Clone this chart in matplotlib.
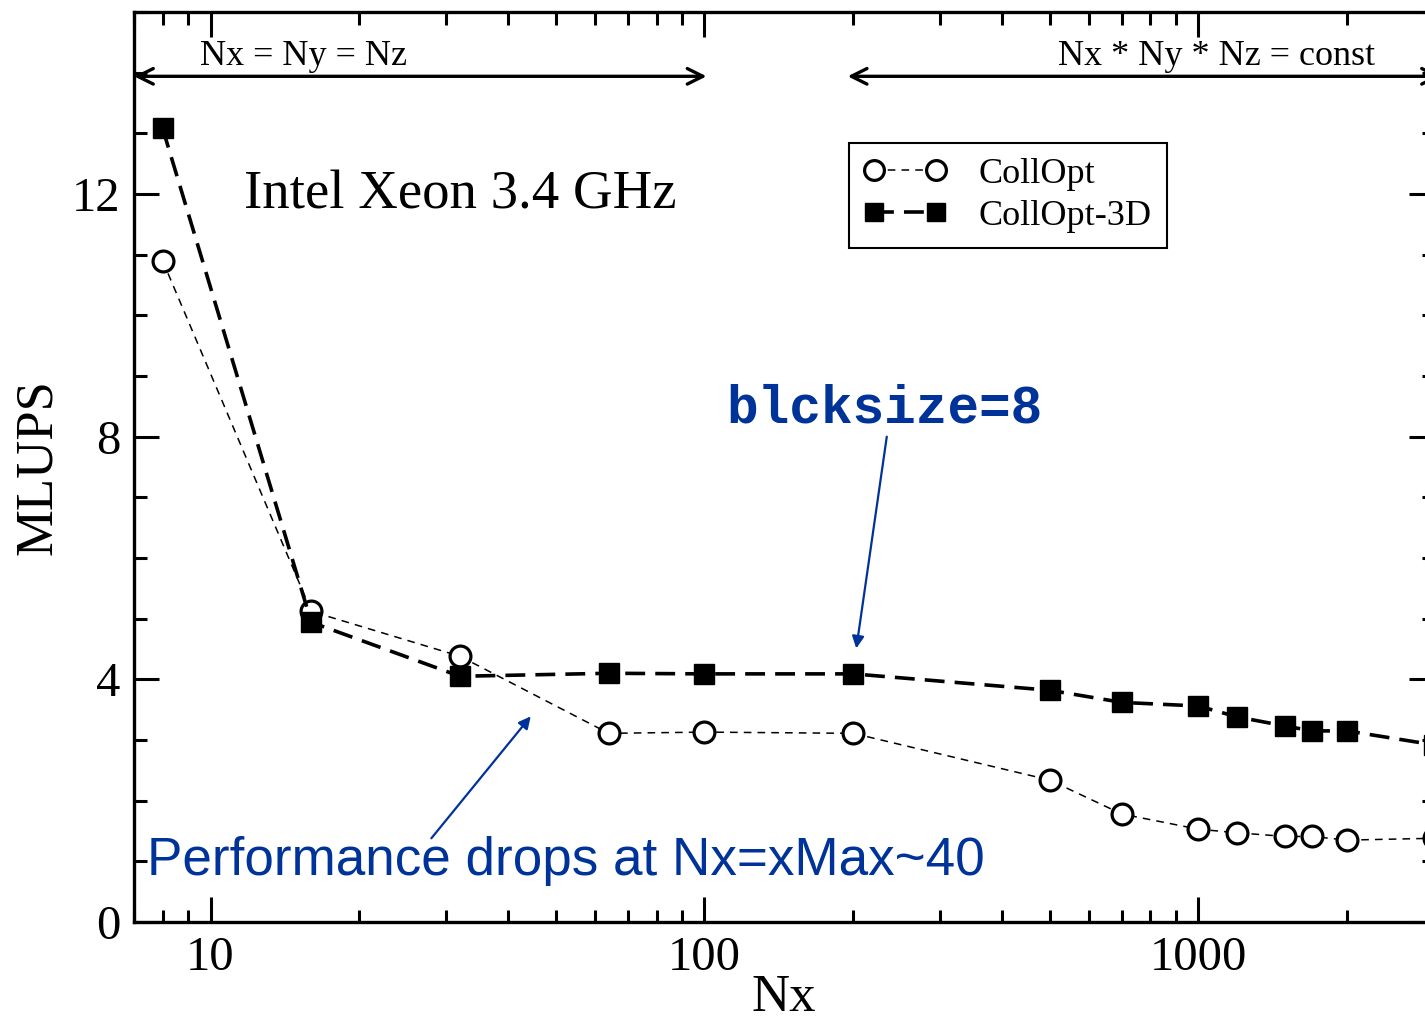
import numpy as np
import matplotlib
matplotlib.use("Agg")
from matplotlib import pyplot as plt
from matplotlib.ticker import LogLocator, MultipleLocator, FixedLocator, NullFormatter

# data
nx = [8, 16, 32, 64, 100, 200, 500, 700, 1000, 1200, 1500, 1700, 2000, 3000]
collopt = [10.9, 5.12, 4.38, 3.11, 3.13, 3.11, 2.34, 1.78, 1.53, 1.47, 1.41, 1.41, 1.35, 1.38]
collopt_3d = [13.08, 4.94, 4.05, 4.10, 4.09, 4.09, 3.82, 3.62, 3.56, 3.38, 3.23, 3.15, 3.15, 2.92]

x_ticks = [10, 100, 1000]
x_ticklabels = ["10", "100", "1000"]
y_ticks = [0, 4, 8, 12]

serif = "Liberation Serif"
blue = "#003399"

fig = plt.figure(figsize=(14.25, 10.25), dpi=100)
ax = fig.add_axes([134 / 1425, 103 / 1025, 1300 / 1425, 910 / 1025])

ax.plot(nx, collopt, color="black", lw=1.1, dashes=(5, 4),
        marker="o", ms=15, mfc="white", mec="black", mew=2.3, label="CollOpt", zorder=3)
ax.plot(nx, collopt_3d, color="black", lw=2.6, dashes=(5.5, 2.8),
        marker="s", ms=14, mfc="black", mec="black", mew=1, label="CollOpt-3D", zorder=4)

ax.set_xscale("log")
ax.set_xlim(7, 3000)
ax.set_ylim(0, 15)

ax.xaxis.set_major_locator(FixedLocator(x_ticks))
ax.set_xticklabels(x_ticklabels)
ax.xaxis.set_minor_locator(LogLocator(base=10, subs=np.arange(2, 10)))
ax.xaxis.set_minor_formatter(NullFormatter())
ax.yaxis.set_major_locator(FixedLocator(y_ticks))
ax.yaxis.set_minor_locator(MultipleLocator(1))

ax.tick_params(which="both", direction="in", top=True, right=True, width=2.2)
ax.tick_params(which="major", length=18, pad=10, labelsize=35)
ax.tick_params(which="minor", length=9)
for lab in ax.get_xticklabels() + ax.get_yticklabels():
    lab.set_family(serif)
for sp in ax.spines.values():
    sp.set_linewidth(2.4)

ax.set_xlabel("Nx", fontsize=38, family=serif, labelpad=-4)
ax.set_ylabel("MLUPS", fontsize=38, family=serif, labelpad=7)

# regime arrows on top
ax.annotate("", xy=(101, 13.94), xytext=(7, 13.94),
            arrowprops=dict(arrowstyle="<->", lw=2.4, color="black", mutation_scale=28,
                            shrinkA=0, shrinkB=0), annotation_clip=False)
ax.annotate("", xy=(3100, 13.94), xytext=(195, 13.94),
            arrowprops=dict(arrowstyle="<->", lw=2.4, color="black", mutation_scale=28,
                            shrinkA=0, shrinkB=0), annotation_clip=False)
ax.text(9.5, 14.12, "Nx = Ny = Nz", fontsize=26, family=serif, ha="left", va="baseline")
ax.text(2281, 14.12, "Nx * Ny * Nz = const", fontsize=26, family=serif, ha="right", va="baseline")

ax.text(11.67, 11.76, "Intel Xeon 3.4 GHz", fontsize=39.4, family=serif, ha="left", va="baseline")

ax.text(110.8, 8.24, "blcksize=8", fontsize=38, family="Liberation Mono", weight="bold",
        color=blue, ha="left", va="baseline")
ax.annotate("", xy=(203, 4.51), xytext=(234, 8.0),
            arrowprops=dict(arrowstyle="-|>", lw=1.6, color=blue, mutation_scale=18,
                            shrinkA=0, shrinkB=0))

ax.text(7.45, 0.77, "Performance drops at Nx=xMax~40", fontsize=38.2, family="Liberation Sans",
        color=blue, ha="left", va="baseline")
ax.annotate("", xy=(44.5, 3.39), xytext=(28.0, 1.38),
            arrowprops=dict(arrowstyle="-|>", lw=1.6, color=blue, mutation_scale=18,
                            shrinkA=0, shrinkB=0))

leg = ax.legend(loc="upper left", bbox_to_anchor=(0.55, 0.856), prop={"family": serif, "size": 26},
                frameon=True, fancybox=False, edgecolor="black", framealpha=1, numpoints=2,
                handlelength=2.3, borderpad=0.4, labelspacing=0.25, handletextpad=0.9,
                borderaxespad=0, markerscale=0.95)
leg.get_frame().set_linewidth(1.5)

fig.savefig("out.png", dpi=100)
